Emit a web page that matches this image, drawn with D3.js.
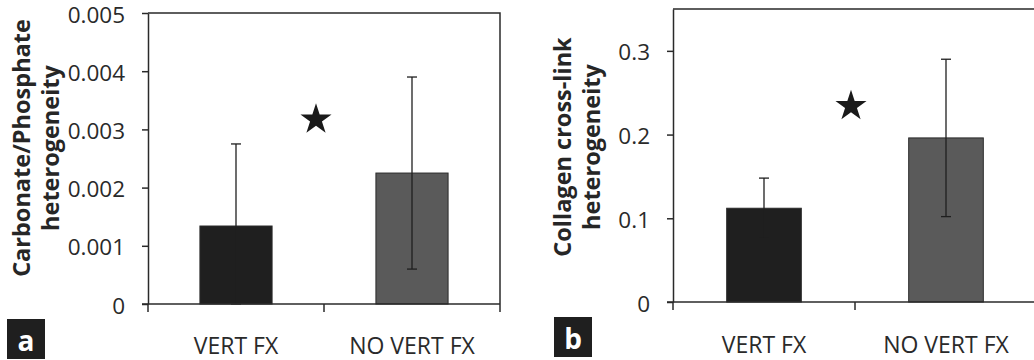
<!DOCTYPE html>
<html>
<head>
<meta charset="utf-8">
<script src="https://cdn.jsdelivr.net/npm/d3@7"></script>
<style>
  body { margin: 0; background: #fff; }
  svg { display: block; font-family: "Open Sans", sans-serif; }
</style>
</head>
<body>
<svg id="chart" width="1034" height="360"></svg>
<script>
// values
const categories = ["VERT FX", "NO VERT FX"];

const carbMeans = [0.00134, 0.00225];
const carbErrors = [0.00141, 0.00165];
const carbTicks = [0, 0.001, 0.002, 0.003, 0.004, 0.005];
const carbStar = 0.00317;

const xlinkMeans = [0.112, 0.196];
const xlinkErrors = [0.036, 0.094];
const xlinkTicks = [0, 0.1, 0.2, 0.3];
const xlinkStar = 0.234;

const barColors = ["#1f1f1f", "#5a5a5a"];
const ink = "#2a2a2a";

const svg = d3.select("#chart");

const drawPanel = (opts) => {
  const g = svg.append("g");
  const x = d3.scaleBand().domain(categories).range([opts.left, opts.right]).padding(0);
  const y = d3.scaleLinear().domain([0, opts.max]).range([opts.bottom, opts.top]);
  const bw = x.bandwidth() * 0.41;

  // frame: top + right border
  g.append("path")
    .attr("d", `M${opts.left},${opts.top}H${opts.right}V${opts.bottom}`)
    .attr("fill", "none").attr("stroke", ink).attr("stroke-width", 1.5);

  // bars
  g.selectAll("rect.bar")
    .data(opts.means)
    .join("rect")
    .attr("class", "bar")
    .attr("x", (d, i) => x(categories[i]) + (x.bandwidth() - bw) / 2)
    .attr("width", bw)
    .attr("y", d => y(d))
    .attr("height", d => y(0) - y(d))
    .attr("fill", (d, i) => barColors[i])
    .attr("stroke", "#2a2a2a")
    .attr("stroke-width", 1);

  // error bars (same tone as the dark bar, so it vanishes inside it)
  const eb = g.selectAll("g.err")
    .data(opts.means.map((m, i) => ({ c: categories[i], m: m, e: opts.errors[i] })))
    .join("g")
    .attr("class", "err")
    .attr("stroke", "#1f1f1f")
    .attr("stroke-width", 1.3);
  const cx = d => x(d.c) + x.bandwidth() / 2;
  eb.append("line")
    .attr("x1", cx).attr("x2", cx)
    .attr("y1", d => y(Math.max(0, d.m - d.e)))
    .attr("y2", d => y(d.m + d.e));
  eb.append("line")
    .attr("x1", d => cx(d) - 5).attr("x2", d => cx(d) + 5)
    .attr("y1", d => y(d.m + d.e))
    .attr("y2", d => y(d.m + d.e));
  eb.append("line")
    .attr("x1", d => cx(d) - 5).attr("x2", d => cx(d) + 5)
    .attr("y1", d => y(Math.max(0, d.m - d.e)))
    .attr("y2", d => y(Math.max(0, d.m - d.e)));

  // y axis
  const yAxis = g.append("g")
    .attr("transform", `translate(${opts.left},0)`)
    .call(d3.axisLeft(y).tickValues(opts.ticks).tickFormat(opts.fmt).tickSize(6).tickPadding(17).tickSizeOuter(0))
    .attr("font-family", null)
    .attr("font-size", null);
  yAxis.select(".domain").attr("stroke", ink).attr("stroke-width", 1.5);
  yAxis.selectAll(".tick line").attr("stroke", ink).attr("stroke-width", 1.5);
  yAxis.selectAll(".tick text")
    .attr("fill", ink).style("font-size", "22.5px").attr("dy", "0.4em");

  // x axis with ticks between categories
  const bounds = [opts.left, opts.left + x.step(), opts.right];
  const xAxis = g.append("g").attr("transform", `translate(0,${opts.bottom})`);
  xAxis.append("line")
    .attr("x1", opts.left - 6).attr("x2", opts.right)
    .attr("stroke", ink).attr("stroke-width", 1.5);
  xAxis.selectAll("line.xt")
    .data(bounds)
    .join("line")
    .attr("class", "xt")
    .attr("x1", d => d).attr("x2", d => d)
    .attr("y1", 0).attr("y2", 8)
    .attr("stroke", ink).attr("stroke-width", 1.5);
  xAxis.selectAll("text")
    .data(categories)
    .join("text")
    .attr("x", d => x(d) + x.bandwidth() / 2)
    .attr("y", opts.labelY - opts.bottom)
    .attr("text-anchor", "middle")
    .attr("fill", ink)
    .style("font-size", "23px")
    .text(d => d);

  // significance star
  g.append("path")
    .attr("d", d3.symbol(d3.symbolStar, 300)())
    .attr("transform", `translate(${opts.left + x.step() - opts.starShift},${y(opts.star)})`)
    .attr("fill", "#1a1a1a");

  // y title
  const title = g.append("text")
    .attr("transform", `translate(${opts.titleX},${opts.titleY}) rotate(-90)`)
    .attr("text-anchor", "middle")
    .attr("fill", "#262626")
    .style("font-size", "23.5px")
    .style("font-weight", "bold");
  title.append("tspan").attr("x", 0).attr("dy", 0).text(opts.title[0]);
  title.append("tspan").attr("x", 0).attr("dy", 29).text(opts.title[1]);

  // panel letter
  g.append("rect")
    .attr("x", opts.tagX).attr("y", opts.tagY)
    .attr("width", 38).attr("height", 40)
    .attr("fill", "#1f1f1f");
  g.append("text")
    .attr("x", opts.tagX + 19).attr("y", opts.tagY + 32)
    .attr("text-anchor", "middle")
    .attr("fill", "#fff")
    .style("font-size", "28px")
    .style("font-weight", "bold")
    .text(opts.tag);
};

drawPanel({
  left: 148, right: 500, top: 13, bottom: 304, max: 0.005,
  means: carbMeans, errors: carbErrors, ticks: carbTicks, star: carbStar, starShift: 8,
  fmt: d => d === 0 ? "0" : d3.format(".3f")(d),
  title: ["Carbonate/Phosphate", "heterogeneity"], titleX: 30, titleY: 148,
  tag: "a", tagX: 7, tagY: 319, labelY: 354
});

drawPanel({
  left: 673, right: 1037, top: 9, bottom: 302, max: 0.35,
  means: xlinkMeans, errors: xlinkErrors, ticks: xlinkTicks, star: xlinkStar, starShift: 4,
  fmt: d => d === 0 ? "0" : d3.format(".1f")(d),
  title: ["Collagen cross-link", "heterogeneity"], titleX: 571, titleY: 147,
  tag: "b", tagX: 554, tagY: 317, labelY: 353
});
</script>
</body>
</html>
